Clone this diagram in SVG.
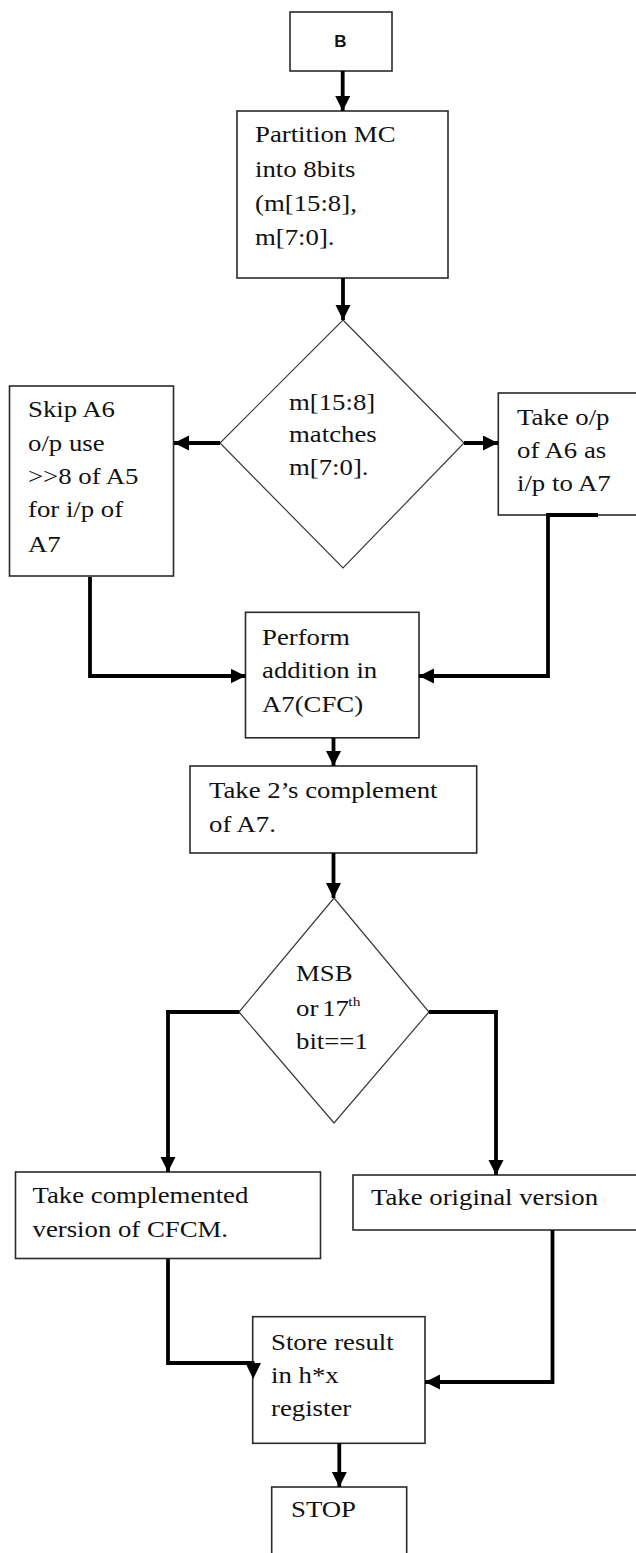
<svg xmlns="http://www.w3.org/2000/svg" width="636" height="1553" viewBox="0 0 636 1553">
<style>
.box{fill:#fff;stroke:#2a2a2a;stroke-width:1.6}
.dia{fill:#fff;stroke:#3a3a3a;stroke-width:1.2}
.t{font-family:"Liberation Serif","Times New Roman",serif;font-size:22.5px;fill:#111}
.sup{font-family:"Liberation Serif","Times New Roman",serif;font-size:13px;fill:#111}
.b{font-family:"Liberation Sans",Arial,sans-serif;font-size:17px;font-weight:bold;fill:#111}
.c{fill:none;stroke:#000;stroke-width:3.8;stroke-linejoin:miter;stroke-linecap:butt}
</style>
<defs>
<marker id="ah" markerUnits="userSpaceOnUse" markerWidth="16" markerHeight="16" refX="15" refY="7.5" orient="auto">
<path d="M0,0 L15,7.5 L0,15 z" fill="#000"/>
</marker>
</defs>
<rect width="636" height="1553" fill="#fff"/>

<g id="node-b">
<rect class="box" x="290" y="12" width="102" height="59"/>
<text class="b" x="340.5" y="46.5" text-anchor="middle">B</text>
</g>

<g id="node-partition">
<rect class="box" x="237" y="111" width="211" height="167"/>
<g transform="translate(255 0) scale(1.19 1)">
<text class="t" x="0" y="142">Partition MC</text>
<text class="t" x="0" y="177">into 8bits</text>
<text class="t" x="0" y="211">(m[15:8],</text>
<text class="t" x="0" y="245">m[7:0].</text>
</g>
</g>

<g id="node-match">
<polygon class="dia" points="343,320 464,443 343,568 220,443"/>
<g transform="translate(289 0) scale(1.19 1)">
<text class="t" x="0" y="410">m[15:8]</text>
<text class="t" x="0" y="442">matches</text>
<text class="t" x="0" y="475">m[7:0].</text>
</g>
</g>

<g id="node-skip">
<rect class="box" x="9.5" y="386" width="164" height="190"/>
<g transform="translate(28 0) scale(1.19 1)">
<text class="t" x="0" y="417">Skip A6</text>
<text class="t" x="0" y="451">o/p use</text>
<text class="t" x="0" y="484">&gt;&gt;8 of A5</text>
<text class="t" x="0" y="517">for i/p of</text>
<text class="t" x="0" y="552">A7</text>
</g>
</g>

<g id="node-take-op">
<rect class="box" x="498.3" y="393" width="160" height="122"/>
<g transform="translate(517 0) scale(1.19 1)">
<text class="t" x="0" y="425">Take o/p</text>
<text class="t" x="0" y="458">of A6 as</text>
<text class="t" x="0" y="491">i/p to A7</text>
</g>
</g>

<g id="node-perform">
<rect class="box" x="245.5" y="612.3" width="173.5" height="125.5"/>
<g transform="translate(262 0) scale(1.19 1)">
<text class="t" x="0" y="645">Perform</text>
<text class="t" x="0" y="678">addition in</text>
<text class="t" x="0" y="712">A7(CFC)</text>
</g>
</g>

<g id="node-complement">
<rect class="box" x="190" y="766" width="286.7" height="87"/>
<g transform="translate(209 0) scale(1.19 1)">
<text class="t" x="0" y="798">Take 2’s complement</text>
<text class="t" x="0" y="832">of A7.</text>
</g>
</g>

<g id="node-msb">
<polygon class="dia" points="334,898 429,1012 334,1123 239,1012"/>
<g transform="translate(296 0) scale(1.19 1)">
<text class="t" x="0" y="981">MSB</text>
<text class="t" x="0" y="1016">or</text>
<text class="t" x="22" y="1016">17</text>
<text class="sup" x="44" y="1006">th</text>
<text class="t" x="0" y="1049">bit==1</text>
</g>
</g>

<g id="node-complemented">
<rect class="box" x="15.5" y="1172" width="305" height="86.5"/>
<g transform="translate(32.5 0) scale(1.19 1)">
<text class="t" x="0" y="1203">Take  complemented</text>
<text class="t" x="0" y="1237">version of CFCM.</text>
</g>
</g>

<g id="node-original">
<rect class="box" x="353" y="1175" width="310" height="55"/>
<g transform="translate(371 0) scale(1.19 1)">
<text class="t" x="0" y="1205">Take original version</text>
</g>
</g>

<g id="node-store">
<rect class="box" x="252.7" y="1316.7" width="172.3" height="126.6"/>
<g transform="translate(271 0) scale(1.19 1)">
<text class="t" x="0" y="1350">Store result</text>
<text class="t" x="0" y="1383">in h*x</text>
<text class="t" x="0" y="1416">register</text>
</g>
</g>

<g id="node-stop">
<rect class="box" x="271.7" y="1487" width="135" height="80"/>
<g transform="translate(291 0) scale(1.19 1)">
<text class="t" x="0" y="1517">STOP</text>
</g>
</g>

<g id="connectors">
<path class="c" d="M342.7,71 V111" marker-end="url(#ah)"/>
<path class="c" d="M343,278 V320" marker-end="url(#ah)"/>
<path class="c" d="M220,443 H174" marker-end="url(#ah)"/>
<path class="c" d="M464,443 H498" marker-end="url(#ah)"/>
<path class="c" d="M90,577 V676 H245.5" marker-end="url(#ah)"/>
<path class="c" d="M598,515 H548 V676 H419" marker-end="url(#ah)"/>
<path class="c" d="M333.5,738 V766" marker-end="url(#ah)"/>
<path class="c" d="M333.5,853 V898" marker-end="url(#ah)"/>
<path class="c" d="M239.4,1012 H168 V1172" marker-end="url(#ah)"/>
<path class="c" d="M428.8,1012 H496 V1175" marker-end="url(#ah)"/>
<path class="c" d="M168,1259 V1363 H254.5"/>
<polygon points="245.5,1363 261,1363 253.2,1379" fill="#000"/>
<path class="c" d="M552.5,1230 V1382 H425" marker-end="url(#ah)"/>
<path class="c" d="M339.3,1443 V1487" marker-end="url(#ah)"/>
</g>
</svg>
